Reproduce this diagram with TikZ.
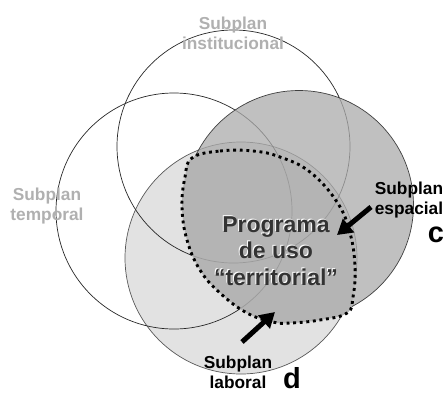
\documentclass[tikz,border=0pt]{standalone}
\usepackage{fontspec}
\setmainfont{Liberation Sans}
\usetikzlibrary{arrows.meta}
\definecolor{espfill}{HTML}{ABABAB}
\definecolor{labfill}{HTML}{E2E2E2}
\definecolor{progfill}{HTML}{B4B4B4}
\definecolor{innerline}{HTML}{9A9A9A}
\definecolor{graytext}{HTML}{B0B0B0}
\definecolor{progtext}{HTML}{333333}
\tikzset{
  outline/.style={line width=0.7pt},
  lbl/.style={inner sep=0pt, align=center, font=\fontsize{17.3}{20}\selectfont\bfseries},
  graylbl/.style={lbl, text=graytext},
  proglbl/.style={inner sep=0pt, align=center, font=\fontsize{23}{26.5}\selectfont\bfseries},
  letterlbl/.style={inner sep=0pt, font=\fontsize{29}{30}\selectfont\bfseries},
  bigarrow/.style={line width=5pt, -{Triangle[length=15pt,width=17pt]}},
  dotline/.style={line width=2.9pt, dash pattern=on 2.9pt off 3.7pt}
}
\begin{document}
\begin{tikzpicture}[x=1pt,y=-1pt]
\useasboundingbox (0,0) rectangle (444,394);
\coordinate (cinst) at (233.5,146.5);
\coordinate (ctemp) at (174,211);
\coordinate (cesp) at (299,205);
\coordinate (clab) at (241,258);
% laboral circle
\fill[labfill] (clab) circle[radius=116pt];
\draw[outline, black!65] (clab) circle[radius=116pt];
% temporal and institucional outlines
\draw[outline, black!85] (ctemp) circle[radius=118pt];
\draw[outline, black!85] (cinst) circle[radius=116.5pt];
% espacial circle
\fill[espfill, fill opacity=0.75] (cesp) circle[radius=114.5pt];
\draw[outline, black!75] (cesp) circle[radius=114.5pt];
% programa region
\begin{scope}
\clip plot[smooth cycle, tension=0.7] coordinates {(192,158) (220,151) (253,151) (280,157) (310,172) (337,202) (350,233) (355,267) (353,297) (347,313) (320,320) (290,323) (273,322) (247,313) (220,293) (200,270) (187,240) (182,207) (185,177)};
\fill[progfill] (0,0) rectangle (444,394);
\draw[outline, innerline] (ctemp) circle[radius=118pt];
\draw[outline, innerline] (cinst) circle[radius=116.5pt];
\end{scope}
\draw[dotline] plot[smooth cycle, tension=0.7] coordinates {(192,158) (220,151) (253,151) (280,157) (310,172) (337,202) (350,233) (355,267) (353,297) (347,313) (320,320) (290,323) (273,322) (247,313) (220,293) (200,270) (187,240) (182,207) (185,177)};
% labels
\node[graylbl] (tinst) at (233,33) {Subplan\\institucional};
\node[graylbl] (ttemp) at (47,206) {Subplan\\temporal};
\node[lbl] (tesp) at (409,200) {Subplan\\espacial};
\node[lbl] (tlab) at (238,372) {Subplan\\laboral};
\node[proglbl, text=white] (progshadow) at (275,250) {Programa\\de uso\\“territorial”};
\node[proglbl, text=progtext] (prog) at (276,251) {Programa\\de uso\\“territorial”};
\node[letterlbl, anchor=base] (lc) at (436,242) {c};
\node[letterlbl, anchor=base] (ld) at (292,388) {d};
% arrows
\coordinate (a1s) at (371,207);
\coordinate (a1e) at (337,235);
\coordinate (a2s) at (242,342);
\coordinate (a2e) at (275,312);
\draw[bigarrow] (a1s) -- (a1e);
\draw[bigarrow] (a2s) -- (a2e);
\end{tikzpicture}
\end{document}
